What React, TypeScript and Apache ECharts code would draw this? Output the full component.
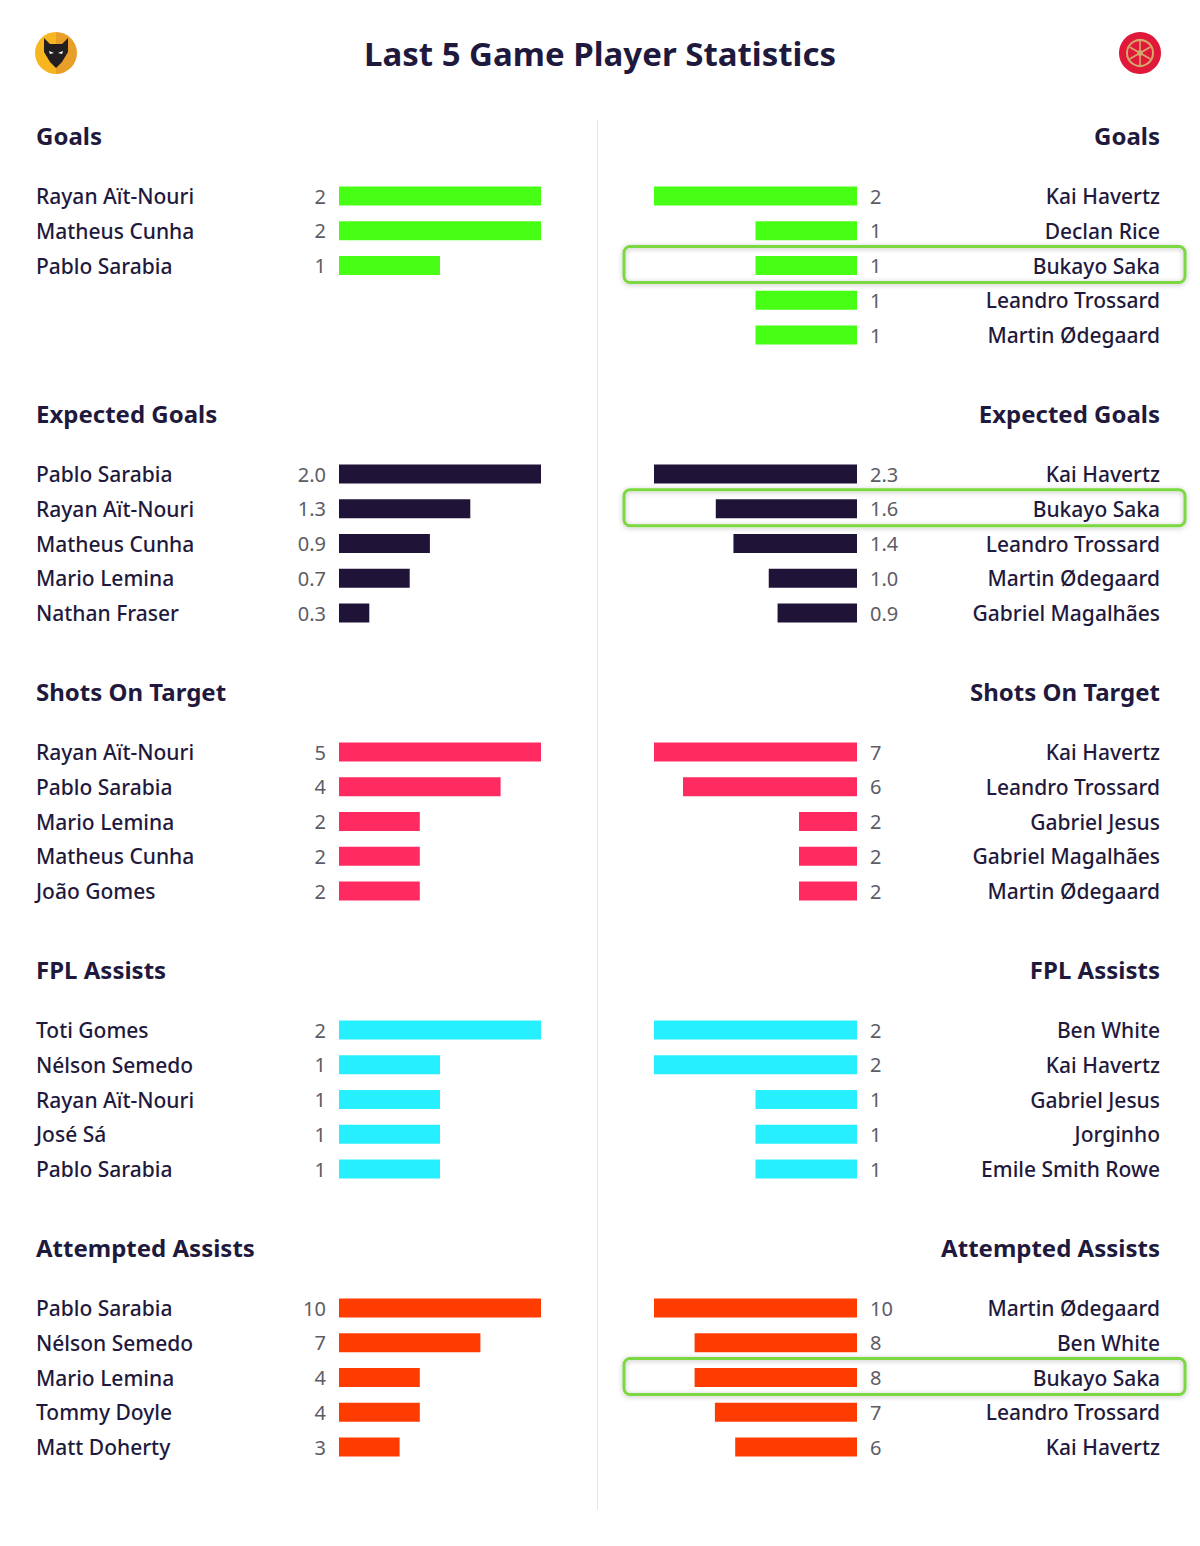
import React, { useEffect, useRef } from "react";
import * as echarts from "echarts";

// ---------- data ----------
const chartTitle = "Last 5 Game Player Statistics";
const sectionTitles = ["Goals", "Expected Goals", "Shots On Target", "FPL Assists", "Attempted Assists"];
const sectionDecimals = [0, 1, 0, 0, 0];

const wolvesGoalsPlayers = ["Rayan Aït-Nouri", "Matheus Cunha", "Pablo Sarabia"];
const wolvesGoalsValues = [2, 2, 1];
const wolvesXgPlayers = ["Pablo Sarabia", "Rayan Aït-Nouri", "Matheus Cunha", "Mario Lemina", "Nathan Fraser"];
const wolvesXgValues = [2.0, 1.3, 0.9, 0.7, 0.3];
const wolvesShotsPlayers = ["Rayan Aït-Nouri", "Pablo Sarabia", "Mario Lemina", "Matheus Cunha", "João Gomes"];
const wolvesShotsValues = [5, 4, 2, 2, 2];
const wolvesAssistsPlayers = ["Toti Gomes", "Nélson Semedo", "Rayan Aït-Nouri", "José Sá", "Pablo Sarabia"];
const wolvesAssistsValues = [2, 1, 1, 1, 1];
const wolvesAttAssistsPlayers = ["Pablo Sarabia", "Nélson Semedo", "Mario Lemina", "Tommy Doyle", "Matt Doherty"];
const wolvesAttAssistsValues = [10, 7, 4, 4, 3];

const arsenalGoalsPlayers = ["Kai Havertz", "Declan Rice", "Bukayo Saka", "Leandro Trossard", "Martin Ødegaard"];
const arsenalGoalsValues = [2, 1, 1, 1, 1];
const arsenalXgPlayers = ["Kai Havertz", "Bukayo Saka", "Leandro Trossard", "Martin Ødegaard", "Gabriel Magalhães"];
const arsenalXgValues = [2.3, 1.6, 1.4, 1.0, 0.9];
const arsenalShotsPlayers = ["Kai Havertz", "Leandro Trossard", "Gabriel Jesus", "Gabriel Magalhães", "Martin Ødegaard"];
const arsenalShotsValues = [7, 6, 2, 2, 2];
const arsenalAssistsPlayers = ["Ben White", "Kai Havertz", "Gabriel Jesus", "Jorginho", "Emile Smith Rowe"];
const arsenalAssistsValues = [2, 2, 1, 1, 1];
const arsenalAttAssistsPlayers = ["Martin Ødegaard", "Ben White", "Bukayo Saka", "Leandro Trossard", "Kai Havertz"];
const arsenalAttAssistsValues = [10, 8, 8, 7, 6];

const highlightedPlayer = "Bukayo Saka";

// ---------- styles ----------
const sectionColors = ["#47ff14", "#1f1338", "#ff2a5f", "#26f0ff", "#ff3c00"];
const FONT = "Noto Sans";
const DARK = "#1f1a3d";

export default function App() {
  const ref = useRef<HTMLDivElement>(null);

  useEffect(() => {
    if (!ref.current) return;
    const chart = echarts.init(ref.current, null, { renderer: "svg" });

    const leftPlayers = [wolvesGoalsPlayers, wolvesXgPlayers, wolvesShotsPlayers, wolvesAssistsPlayers, wolvesAttAssistsPlayers];
    const leftValues = [wolvesGoalsValues, wolvesXgValues, wolvesShotsValues, wolvesAssistsValues, wolvesAttAssistsValues];
    const rightPlayers = [arsenalGoalsPlayers, arsenalXgPlayers, arsenalShotsPlayers, arsenalAssistsPlayers, arsenalAttAssistsPlayers];
    const rightValues = [arsenalGoalsValues, arsenalXgValues, arsenalShotsValues, arsenalAssistsValues, arsenalAttAssistsValues];

    const rowH = 34.75;
    const firstRowY = 196;
    const step = 278;
    const titleTop = 123;
    const leftBarX = 339;
    const leftBarW = 202;
    const rightBarX = 654;
    const rightBarW = 203;
    const nameMargin = 303;

    const grids: any[] = [];
    const xAxes: any[] = [];
    const yAxes: any[] = [];
    const series: any[] = [];
    const titles: any[] = [];
    const graphics: any[] = [];

    titles.push({
      text: chartTitle,
      left: "center",
      top: 32,
      textStyle: { fontFamily: FONT, fontSize: 33, fontWeight: "bold", color: DARK },
    });

    sectionTitles.forEach((t, s) => {
      const top = titleTop + s * step;
      titles.push({ text: t, left: 36, top, padding: 0, textStyle: { fontFamily: FONT, fontSize: 24, fontWeight: "bold", color: DARK } });
      titles.push({ text: t, right: 40, top, padding: 0, textStyle: { fontFamily: FONT, fontSize: 24, fontWeight: "bold", color: DARK } });

      const sides = [
        { players: leftPlayers[s], values: leftValues[s], left: leftBarX, width: leftBarW, right: false },
        { players: rightPlayers[s], values: rightValues[s], left: rightBarX, width: rightBarW, right: true },
      ];
      sides.forEach((side) => {
        const idx = grids.length;
        const top = firstRowY + s * step - rowH / 2;
        grids.push({ left: side.left, top, width: side.width, height: side.players.length * rowH, containLabel: false });
        xAxes.push({
          type: "value",
          gridIndex: idx,
          min: 0,
          max: Math.max(...side.values),
          inverse: side.right,
          show: false,
        });
        yAxes.push({
          type: "category",
          gridIndex: idx,
          data: side.players,
          inverse: true,
          position: side.right ? "right" : "left",
          axisLine: { show: false },
          axisTick: { show: false },
          splitLine: { show: false },
          axisLabel: {
            align: side.right ? "right" : "left",
            margin: nameMargin,
            fontFamily: FONT,
            fontSize: 21,
            fontWeight: 500,
            color: DARK,
          },
        });
        const dec = sectionDecimals[s];
        series.push({
          type: "bar",
          xAxisIndex: idx,
          yAxisIndex: idx,
          data: side.values,
          barWidth: 19,
          itemStyle: { color: sectionColors[s] },
          label: {
            show: true,
            position: side.right ? "right" : "left",
            distance: 13,
            formatter: (p: any) => Number(p.value).toFixed(dec),
            fontFamily: FONT,
            fontSize: 20,
            color: "#5c5c66",
          },
        });

        if (side.right) {
          const hi = side.players.indexOf(highlightedPlayer);
          if (hi >= 0) {
            const cy = firstRowY + s * step + hi * rowH;
            graphics.push({
              type: "rect",
              shape: { x: 624, y: cy - 19, width: 561, height: 36, r: 6 },
              style: {
                fill: "rgba(0,0,0,0)",
                stroke: "#7bd83f",
                lineWidth: 3,
                shadowBlur: 5,
                shadowColor: "rgba(0,0,0,0.25)",
                shadowOffsetY: 1,
              },
              z: 10,
            });
          }
        }
      });
    });

    // divider
    graphics.push({
      type: "line",
      shape: { x1: 597.5, y1: 120, x2: 597.5, y2: 1510 },
      style: { stroke: "#e6e6e6", lineWidth: 1 },
    });

    // Wolves logo
    graphics.push({
      type: "group",
      children: [
        { type: "sector", shape: { cx: 56, cy: 53, r: 21, startAngle: Math.PI / 2, endAngle: (Math.PI * 3) / 2 }, style: { fill: "#f7b520" } },
        { type: "sector", shape: { cx: 56, cy: 53, r: 21, startAngle: -Math.PI / 2, endAngle: Math.PI / 2 }, style: { fill: "#e89f2a" } },
        {
          type: "polygon",
          shape: {
            points: [
              [44, 38], [50, 44], [62, 44], [68, 38], [68, 52], [62, 62], [56, 68], [50, 62], [44, 52],
            ],
          },
          style: { fill: "#231f20" },
        },
        { type: "polygon", shape: { points: [[49, 51], [54, 53], [50, 54]] }, style: { fill: "#ffffff" } },
        { type: "polygon", shape: { points: [[63, 51], [58, 53], [62, 54]] }, style: { fill: "#ffffff" } },
      ],
    });

    // Arsenal logo
    const spokes: any[] = [];
    for (let k = 0; k < 6; k++) {
      const a = (k * Math.PI) / 3 + Math.PI / 6;
      spokes.push({
        type: "line",
        shape: { x1: 1140, y1: 53, x2: 1140 + Math.cos(a) * 12, y2: 53 + Math.sin(a) * 12 },
        style: { stroke: "#d4aa6a", lineWidth: 1.6 },
      });
    }
    graphics.push({
      type: "group",
      children: [
        { type: "circle", shape: { cx: 1140, cy: 53, r: 21 }, style: { fill: "#e0183a" } },
        { type: "circle", shape: { cx: 1140, cy: 53, r: 13 }, style: { fill: "#e0183a", stroke: "#d4aa6a", lineWidth: 2 } },
        ...spokes,
        { type: "circle", shape: { cx: 1140, cy: 53, r: 3 }, style: { fill: "#d4aa6a" } },
      ],
    });

    chart.setOption({
      animation: false,
      backgroundColor: "#ffffff",
      title: titles,
      grid: grids,
      xAxis: xAxes,
      yAxis: yAxes,
      series,
      graphic: graphics,
    });

    return () => chart.dispose();
  }, []);

  return <div ref={ref} style={{ position: "absolute", left: 0, top: 0, width: 1200, height: 1546 }} />;
}
